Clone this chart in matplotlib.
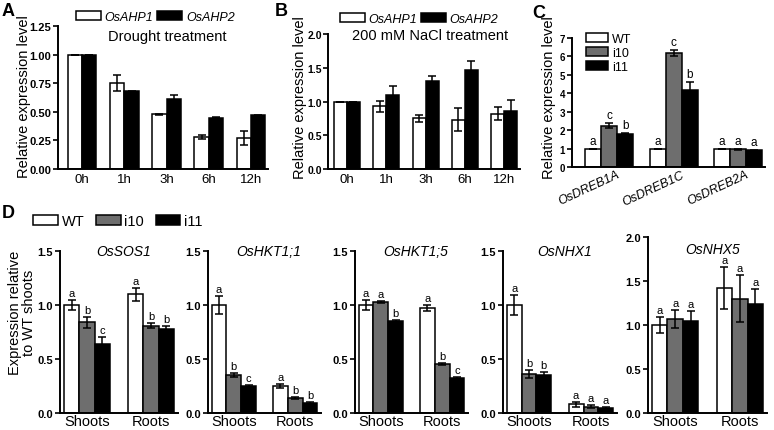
import matplotlib
matplotlib.use("Agg")
import matplotlib.pyplot as plt  # noqa: E402
import matplotlib.transforms as mtransforms  # noqa: E402
from matplotlib.patches import Patch  # noqa: E402
import numpy as np  # noqa: E402

plt.rcParams["font.family"] = ["Liberation Sans", "DejaVu Sans"]

W, H = 774, 431

# --- A / B: OsAHP1/2 time course ---
hours = ["0h", "1h", "3h", "6h", "12h"]
drought_ahp1 = [1.00, 0.75, 0.48, 0.28, 0.27]
drought_ahp1_err = [0.0, 0.07, 0.005, 0.02, 0.06]
drought_ahp2 = [1.00, 0.68, 0.61, 0.45, 0.47]
drought_ahp2_err = [0.0, 0.005, 0.04, 0.005, 0.005]
salt_ahp1 = [1.00, 0.93, 0.75, 0.73, 0.82]
salt_ahp1_err = [0.0, 0.08, 0.05, 0.17, 0.10]
salt_ahp2 = [1.00, 1.10, 1.30, 1.46, 0.86]
salt_ahp2_err = [0.0, 0.13, 0.08, 0.14, 0.16]

# --- C: DREB genes ---
dreb_genes = ["OsDREB1A", "OsDREB1C", "OsDREB2A"]
dreb_wt = [1.0, 1.0, 1.0]
dreb_i10 = [2.25, 6.2, 0.95]
dreb_i11 = [1.8, 4.2, 0.9]
dreb_wt_err = [0.0, 0.0, 0.0]
dreb_i10_err = [0.12, 0.15, 0.03]
dreb_i11_err = [0.03, 0.40, 0.03]
dreb_letters = ["acb", "acb", "aaa"]

# --- D: ion transporter genes, [shoots, roots] per gene ---
ion_genes = ["OsSOS1", "OsHKT1;1", "OsHKT1;5", "OsNHX1", "OsNHX5"]
tissues = ["Shoots", "Roots"]
ion_wt = [[1.00, 1.10], [1.00, 0.25], [1.00, 0.97], [1.00, 0.08], [1.00, 1.42]]
ion_wt_err = [[0.05, 0.06], [0.08, 0.02], [0.05, 0.03], [0.09, 0.02], [0.09, 0.24]]
ion_i10 = [[0.84, 0.81], [0.35, 0.14], [1.03, 0.45], [0.36, 0.06], [1.07, 1.30]]
ion_i10_err = [[0.05, 0.02], [0.02, 0.01], [0.01, 0.01], [0.04, 0.01], [0.10, 0.27]]
ion_i11 = [[0.64, 0.78], [0.25, 0.09], [0.85, 0.32], [0.35, 0.05], [1.04, 1.24]]
ion_i11_err = [[0.06, 0.03], [0.01, 0.01], [0.01, 0.01], [0.03, 0.01], [0.12, 0.17]]
ion_letters = [["abc", "abb"], ["abc", "abb"], ["aab", "abc"], ["abb", "aaa"], ["aaa", "aaa"]]
ion_ymax = [1.5, 1.5, 1.5, 1.5, 2.0]

GRAY = "#6e6e6e"
EK = dict(ecolor="black", elinewidth=1.1, capsize=3.2, capthick=1.1)

fig = plt.figure(figsize=(W / 100, H / 100), dpi=100)


def px_axes(left, top, right, bottom):
    return fig.add_axes([left / W, 1 - bottom / H, (right - left) / W, (bottom - top) / H])


def style(ax, yticks, fmt, ysize=8):
    for s in ("top", "right"):
        ax.spines[s].set_visible(False)
    for s in ("left", "bottom"):
        ax.spines[s].set_linewidth(1.4)
    ax.set_yticks(yticks)
    ax.set_yticklabels([fmt % v for v in yticks], fontweight="bold")
    ax.tick_params(axis="y", length=3.5, width=1.2, labelsize=ysize, pad=1.5)
    ax.tick_params(axis="x", length=0, labelsize=9.5, pad=3)


def bars(ax, x, vals, errs, w, color):
    return ax.bar(x, vals, w, yerr=errs, color=color, edgecolor="black",
                  linewidth=1.1, error_kw=EK, zorder=2)


def letters(ax, x, vals, errs, labs, off, size=8):
    for xi, v, e, s in zip(x, vals, errs, labs):
        ax.text(xi, v + e + off, s, ha="center", va="bottom", fontsize=size)


def ylab(x, y, s):
    fig.text(x / W, 1 - y / H, s, rotation=90, ha="center", va="center",
             fontsize=10.5, linespacing=1.0)


two = [Patch(facecolor="white", edgecolor="black", lw=1.1),
       Patch(facecolor="black", edgecolor="black", lw=1.1)]
three = [Patch(facecolor="white", edgecolor="black", lw=1.1),
         Patch(facecolor=GRAY, edgecolor="black", lw=1.1),
         Patch(facecolor="black", edgecolor="black", lw=1.1)]

# ---------- A ----------
x = np.arange(len(hours))
ax = px_axes(58, 27, 268, 170)
w = 0.34
bars(ax, x - w / 2, drought_ahp1, drought_ahp1_err, w, "white")
bars(ax, x + w / 2, drought_ahp2, drought_ahp2_err, w, "black")
ax.set_xlim(-0.57, 4.4)
ax.set_ylim(0, 1.25)
ax.set_xticks(x)
ax.set_xticklabels(hours)
style(ax, np.arange(0, 1.26, 0.25), "%.2f")
ax.legend(two, ["OsAHP1", "OsAHP2"], ncol=2, loc="center left",
          bbox_to_anchor=(0.085, 1.065), frameon=False, borderpad=0, borderaxespad=0,
          handlelength=2.0, handleheight=0.7, handletextpad=0.3, columnspacing=0.3,
          prop=dict(style="italic", size=9))
ax.text(0.52, 0.93, "Drought treatment", transform=ax.transAxes, ha="center",
        va="center", fontsize=10.5)

# ---------- B ----------
ax = px_axes(328, 35, 520, 170)
w = 0.33
bars(ax, x - w / 2, salt_ahp1, salt_ahp1_err, w, "white")
bars(ax, x + w / 2, salt_ahp2, salt_ahp2_err, w, "black")
ax.set_xlim(-0.48, 4.4)
ax.set_ylim(0, 2.0)
ax.set_xticks(x)
ax.set_xticklabels(hours)
style(ax, np.arange(0, 2.01, 0.5), "%.1f", ysize=7.5)
ax.tick_params(axis="y", pad=1)
ax.legend(two, ["OsAHP1", "OsAHP2"], ncol=2, loc="center left",
          bbox_to_anchor=(0.06, 1.11), frameon=False, borderpad=0, borderaxespad=0,
          handlelength=2.0, handleheight=0.7, handletextpad=0.3, columnspacing=0.3,
          prop=dict(style="italic", size=9))
ax.text(0.53, 0.99, "200 mM NaCl treatment", transform=ax.transAxes, ha="center",
        va="center", fontsize=10.5)

# ---------- C ----------
xc = np.arange(len(dreb_genes))
ax = px_axes(572, 39, 765, 168)
w = 0.25
series = [(dreb_wt, dreb_wt_err, "white"), (dreb_i10, dreb_i10_err, GRAY),
          (dreb_i11, dreb_i11_err, "black")]
for k, (vals, errs, col) in enumerate(series):
    xs = xc + (k - 1) * w
    bars(ax, xs, vals, errs, w, col)
    letters(ax, xs, vals, errs, [lab[k] for lab in dreb_letters], 0.1, size=8.5)
ax.set_xlim(-0.58, 2.42)
ax.set_ylim(0, 7)
ax.set_xticks(xc)
ax.set_xticklabels(dreb_genes, rotation=25, ha="right", rotation_mode="anchor",
                   style="italic")
style(ax, np.arange(0, 8, 1), "%d", ysize=7)
ax.tick_params(axis="x", labelsize=9, pad=1)
shift = mtransforms.ScaledTranslation(0.07, 0, fig.dpi_scale_trans)
for lab in ax.get_xticklabels():
    lab.set_transform(lab.get_transform() + shift)
ax.legend(three, ["WT", "i10", "i11"], loc="upper left", bbox_to_anchor=(0.07, 1.04),
          frameon=False, borderpad=0, borderaxespad=0, handlelength=1.8,
          handleheight=0.75, handletextpad=0.3, labelspacing=0.15, fontsize=9)

# ---------- D ----------
d_pos = [(60, 178), (208, 321), (355, 468), (503, 617), (648, 767)]
d_top = [252, 252, 252, 252, 238]
xd = np.arange(len(tissues))
w = 0.24
for g, gene in enumerate(ion_genes):
    left, right = d_pos[g]
    ax = px_axes(left, d_top[g], right, 414)
    series = [(ion_wt[g], ion_wt_err[g], "white"), (ion_i10[g], ion_i10_err[g], GRAY),
              (ion_i11[g], ion_i11_err[g], "black")]
    for k, (vals, errs, col) in enumerate(series):
        xs = xd + (k - 1) * w
        bars(ax, xs, vals, errs, w, col)
        letters(ax, xs, vals, errs, [lab[k] for lab in ion_letters[g]],
                0.012 * ion_ymax[g])
    ax.set_xlim(-0.42, 1.42)
    ax.set_ylim(0, ion_ymax[g])
    ax.set_xticks(xd)
    ax.set_xticklabels(tissues)
    style(ax, np.arange(0, ion_ymax[g] + 0.01, 0.5), "%.1f")
    ax.tick_params(axis="x", labelsize=10.5, pad=1)
    ty = 1.0 if ion_ymax[g] == 1.5 else 0.93
    ax.text(0.54, ty, gene, transform=ax.transAxes, ha="center", va="center",
            style="italic", fontsize=10)

fig.legend(three, ["WT", "i10", "i11"], ncol=3, loc="center left",
           bbox_to_anchor=(33 / W, 1 - 222 / H), frameon=False, borderpad=0,
           borderaxespad=0, handlelength=1.7, handleheight=0.7, handletextpad=0.25,
           columnspacing=0.8, fontsize=10.5)

# axis titles and panel letters
ylab(24, 97, "Relative expression level")
ylab(300, 98, "Relative expression level")
ylab(549, 98, "Relative expression level")
ylab(22, 313, "Expression relative\nto WT shoots")
for s, (px, py) in zip("ABCD", [(8, 12), (281, 12), (539, 13), (8, 214)]):
    fig.text(px / W, 1 - py / H, s, fontsize=13, fontweight="bold", ha="center",
             va="center")

fig.savefig("out.png", dpi=100)
